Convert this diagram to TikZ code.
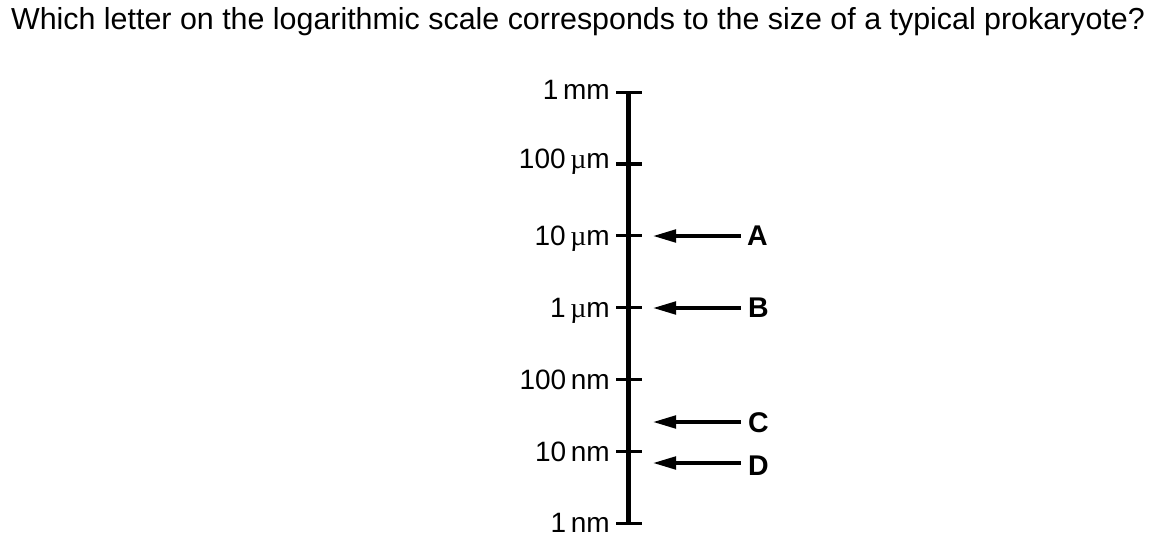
\documentclass[tikz,border=0pt]{standalone}
\usepackage{fontspec}
\setmainfont{Liberation Sans}
\newfontfamily\muf{Liberation Serif}
\usetikzlibrary{arrows.meta}
\begin{document}
\begin{tikzpicture}[x=1pt,y=-1pt,
  lbl/.style={anchor=base east,inner sep=0pt,font=\fontsize{28}{30}\selectfont},
  let/.style={anchor=base west,inner sep=0pt,font=\fontsize{28.5}{30}\selectfont\bfseries},
  tickline/.style={line width=3.5pt},
  ptr/.style={line width=3.5pt,{Triangle[length=23pt,width=12.5pt]}-}]
\useasboundingbox (0,0) rectangle (1157,539);
\node[anchor=base,inner sep=0pt,font=\fontsize{30.4}{32}\selectfont] (title) at (578,29) {Which letter on the logarithmic scale corresponds to the size of a typical prokaryote?};
% axis
\coordinate (top) at (628.3,92.5);
\coordinate (bot) at (628.3,523.3);
\draw[line width=5pt] (top) -- (bot);
\coordinate (t1L) at (616,92.5); \coordinate (t1R) at (641.5,92.5);
\coordinate (t7L) at (616,523.3); \coordinate (t7R) at (641.5,523.3);
\draw[tickline] (t1L) -- (t1R);
\draw[tickline] (t7L) -- (t7R);
\foreach \y/\n in {164/2,235.7/3,307.3/4,379.3/5,451.7/6}{
  \coordinate (t\n L) at (616,\y); \coordinate (t\n R) at (641.5,\y);
  \draw[tickline] (t\n L) -- (t\n R);
}
\node[lbl] (l1) at (610,99) {1\,mm};
\node[lbl] (l2) at (610,168) {100\,{\muf µ}m};
\node[lbl] (l3) at (610,245.5) {10\,{\muf µ}m};
\node[lbl] (l4) at (610,317) {1\,{\muf µ}m};
\node[lbl] (l5) at (610,389.5) {100\,nm};
\node[lbl] (l6) at (610,461) {10\,nm};
\node[lbl] (l7) at (610,532) {1\,nm};
% arrows
\coordinate (aT) at (653,236); \coordinate (aE) at (741,236);
\coordinate (bT) at (653,308); \coordinate (bE) at (741,308);
\coordinate (cT) at (653,422); \coordinate (cE) at (741,422);
\coordinate (dT) at (653,463); \coordinate (dE) at (741,463);
\draw[ptr] (aT) -- (aE);
\draw[ptr] (bT) -- (bE);
\draw[ptr] (cT) -- (cE);
\draw[ptr] (dT) -- (dE);
\node[let] (A) at (747,245) {A};
\node[let] (B) at (748,317) {B};
\node[let] (C) at (748,432) {C};
\node[let] (D) at (748,475) {D};
\end{tikzpicture}
\end{document}
